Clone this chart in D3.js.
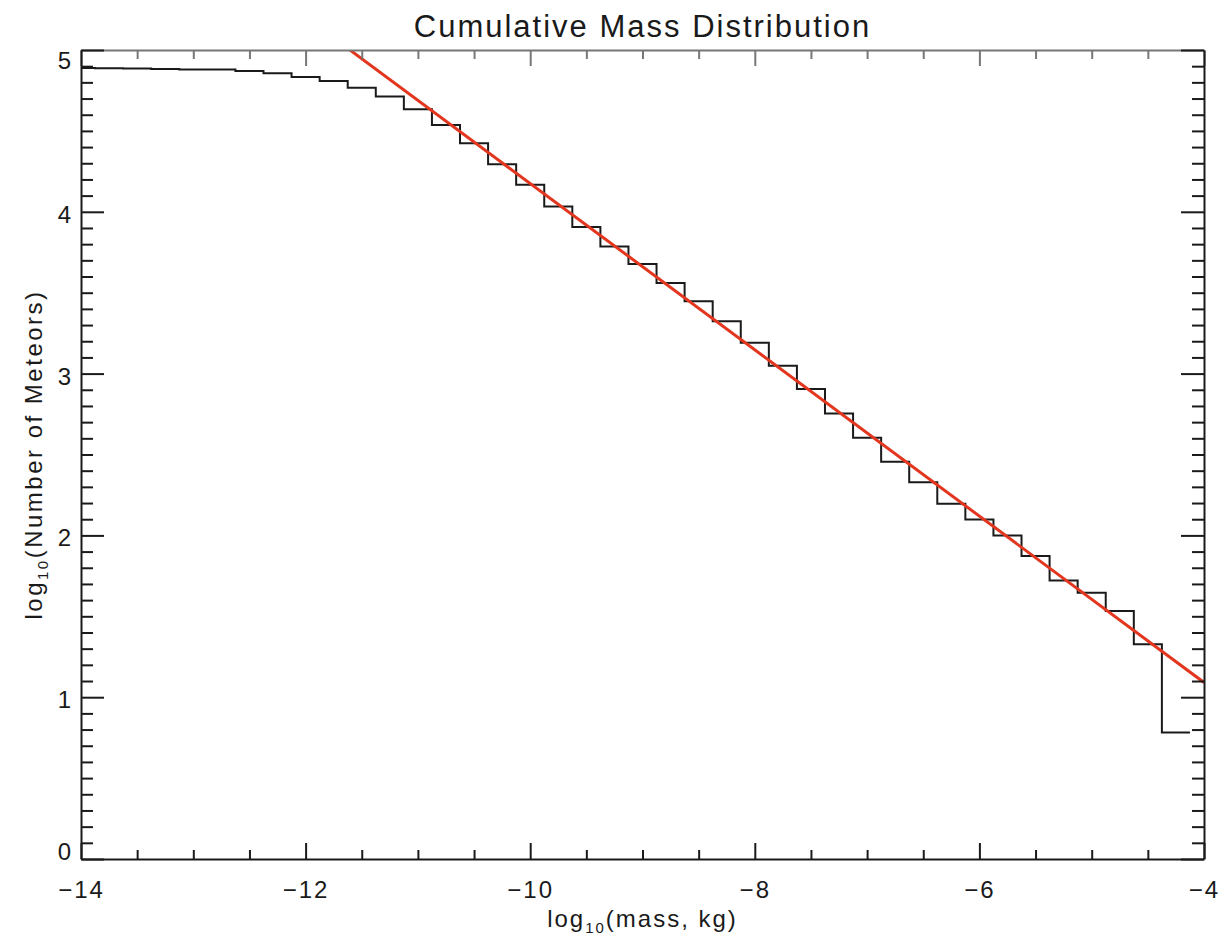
<!DOCTYPE html>
<html>
<head>
<meta charset="utf-8">
<script src="https://cdn.jsdelivr.net/npm/d3@7/dist/d3.min.js"></script>
<style>
  body { margin: 0; background: #fff; }
  text { font-family: "Liberation Sans", Arial, sans-serif; fill: #1a1a1a; }
</style>
</head>
<body>
<div id="chart"></div>
<script>
// bin centres, log10(mass, kg), bin width 0.25
let massBins = [-14, -13.75, -13.5, -13.25, -13, -12.75, -12.5, -12.25, -12, -11.75,
    -11.5, -11.25, -11, -10.75, -10.5, -10.25, -10, -9.75, -9.5, -9.25,
    -9, -8.75, -8.5, -8.25, -8, -7.75, -7.5, -7.25, -7, -6.75,
    -6.5, -6.25, -6, -5.75, -5.5, -5.25, -5, -4.75, -4.5, -4.25];
// log10 of the cumulative number of meteors in each bin
let logCounts = [4.888, 4.887, 4.886, 4.883, 4.880, 4.879, 4.870, 4.856, 4.833, 4.809,
    4.767, 4.712, 4.634, 4.537, 4.424, 4.294, 4.167, 4.033, 3.906, 3.786,
    3.677, 3.560, 3.447, 3.323, 3.190, 3.049, 2.905, 2.753, 2.603, 2.455,
    2.329, 2.196, 2.099, 2.000, 1.872, 1.722, 1.646, 1.533, 1.327, 0.782];
let binWidth = 0.25;

// power-law fit drawn in red
let fitSlope = -0.514, fitIntercept = -0.965;

let xTicks = [-14, -12, -10, -8, -6, -4];
let yTicks = [0, 1, 2, 3, 4, 5];

const width = 1222, height = 936;
const margin = {top: 50, right: 18, bottom: 77, left: 81};

let svg = d3.select("#chart").append("svg")
    .attr("width", width)
    .attr("height", height);

let x = d3.scaleLinear().domain([-14, -4]).range([margin.left, width - margin.right]);
let y = d3.scaleLinear().domain([0, 5]).range([height - margin.bottom, margin.top]);

let plotBottom = y.range()[0], plotTop = y.range()[1];
let plotLeft = x.range()[0], plotRight = x.range()[1];

svg.append("clipPath").attr("id", "plot-clip")
    .append("rect")
    .attr("x", plotLeft).attr("y", plotTop)
    .attr("width", plotRight - plotLeft)
    .attr("height", plotBottom - plotTop);

// Histogram drawn as IDL psym=10 steps: each bin is a flat run of one bin width
let stepPts = [];
massBins.forEach(function(m, i) {
    stepPts.push([m - binWidth / 2, logCounts[i]]);
    stepPts.push([m + binWidth / 2, logCounts[i]]);
});
let line = d3.line().x(d => x(d[0])).y(d => y(d[1]));

svg.append("path")
    .datum(stepPts)
    .attr("clip-path", "url(#plot-clip)")
    .attr("fill", "none")
    .attr("stroke", "#1a1a1a")
    .attr("stroke-width", 2)
    .attr("d", line);

// Fit line
let fitPts = x.domain().map(m => [m, fitIntercept + fitSlope * m]);
svg.append("path")
    .datum(fitPts)
    .attr("clip-path", "url(#plot-clip)")
    .attr("fill", "none")
    .attr("stroke", "#e2361f")
    .attr("stroke-width", 3)
    .attr("d", line);

// minor tick positions
let xMinor = d3.range(-14, -3.99, 0.5).filter(v => xTicks.indexOf(v) < 0);
let yMinor = d3.range(0, 5.001, 0.1).map(v => +v.toFixed(1)).filter(v => yTicks.indexOf(v) < 0);

let fmt = d => d < 0 ? "\u2212" + Math.abs(d) : "" + d;

function styleAxis(g, color) {
    g.selectAll("path.domain").attr("stroke", color).attr("stroke-width", 2);
    g.selectAll("line").attr("stroke", color).attr("stroke-width", 2);
}

// bottom axis
let gb = svg.append("g").attr("transform", `translate(0,${plotBottom})`)
    .call(d3.axisBottom(x).tickValues(xTicks).tickSize(-16).tickSizeOuter(0)
        .tickPadding(22).tickFormat(fmt));
gb.call(styleAxis, "#1a1a1a");
gb.selectAll("text").attr("font-size", 24).attr("letter-spacing", 2)
    .attr("font-family", null).attr("fill", "#1a1a1a").attr("dy", "0.71em");
svg.append("g").attr("transform", `translate(0,${plotBottom})`)
    .call(d3.axisBottom(x).tickValues(xMinor).tickSize(-9).tickFormat(""))
    .call(g => g.select(".domain").remove())
    .call(styleAxis, "#1a1a1a");

// top axis
svg.append("g").attr("transform", `translate(0,${plotTop})`)
    .call(d3.axisTop(x).tickValues(xTicks).tickSize(-16).tickSizeOuter(0).tickFormat(""))
    .call(styleAxis, "#777");
svg.append("g").attr("transform", `translate(0,${plotTop})`)
    .call(d3.axisTop(x).tickValues(xMinor).tickSize(-9).tickFormat(""))
    .call(g => g.select(".domain").remove())
    .call(styleAxis, "#777");

// left axis; end labels are pulled inside the axis span like IDL does
let gl = svg.append("g").attr("transform", `translate(${plotLeft},0)`)
    .call(d3.axisLeft(y).tickValues(yTicks).tickSize(-23).tickSizeOuter(0)
        .tickPadding(10).tickFormat(fmt));
gl.call(styleAxis, "#1a1a1a");
gl.selectAll("text").attr("font-size", 24).attr("font-family", null)
    .attr("fill", "#1a1a1a").attr("dy", null)
    .attr("y", function(d) {
        let c = Math.max(plotTop + 10, Math.min(plotBottom - 8.5, y(d) + 2)) - y(d);
        return c + 8.5;
    });
svg.append("g").attr("transform", `translate(${plotLeft},0)`)
    .call(d3.axisLeft(y).tickValues(yMinor).tickSize(-12).tickFormat(""))
    .call(g => g.select(".domain").remove())
    .call(styleAxis, "#1a1a1a");

// right axis
svg.append("g").attr("transform", `translate(${plotRight},0)`)
    .call(d3.axisRight(y).tickValues(yTicks).tickSize(-23).tickSizeOuter(0).tickFormat(""))
    .call(styleAxis, "#1a1a1a");
svg.append("g").attr("transform", `translate(${plotRight},0)`)
    .call(d3.axisRight(y).tickValues(yMinor).tickSize(-12).tickFormat(""))
    .call(g => g.select(".domain").remove())
    .call(styleAxis, "#1a1a1a");

// Title
svg.append("text")
    .attr("x", (plotLeft + plotRight) / 2)
    .attr("y", 37)
    .attr("text-anchor", "middle")
    .attr("font-size", 31)
    .attr("letter-spacing", 2)
    .text("Cumulative Mass Distribution");

// x-axis label with subscript
let xl = svg.append("text")
    .attr("x", (plotLeft + plotRight) / 2)
    .attr("y", 927)
    .attr("text-anchor", "middle")
    .attr("font-size", 24)
    .attr("letter-spacing", 2);
xl.append("tspan").text("log");
xl.append("tspan").attr("font-size", 15).attr("dy", 6).text("10");
xl.append("tspan").attr("dy", -6).text("(mass, kg)");

// y-axis label
let yl = svg.append("text")
    .attr("transform", `translate(42,${(plotTop + plotBottom) / 2}) rotate(-90)`)
    .attr("text-anchor", "middle")
    .attr("font-size", 24)
    .attr("letter-spacing", 2.5);
yl.append("tspan").text("log");
yl.append("tspan").attr("font-size", 15).attr("dy", 6).text("10");
yl.append("tspan").attr("dy", -6).text("(Number of Meteors)");
</script>
</body>
</html>
